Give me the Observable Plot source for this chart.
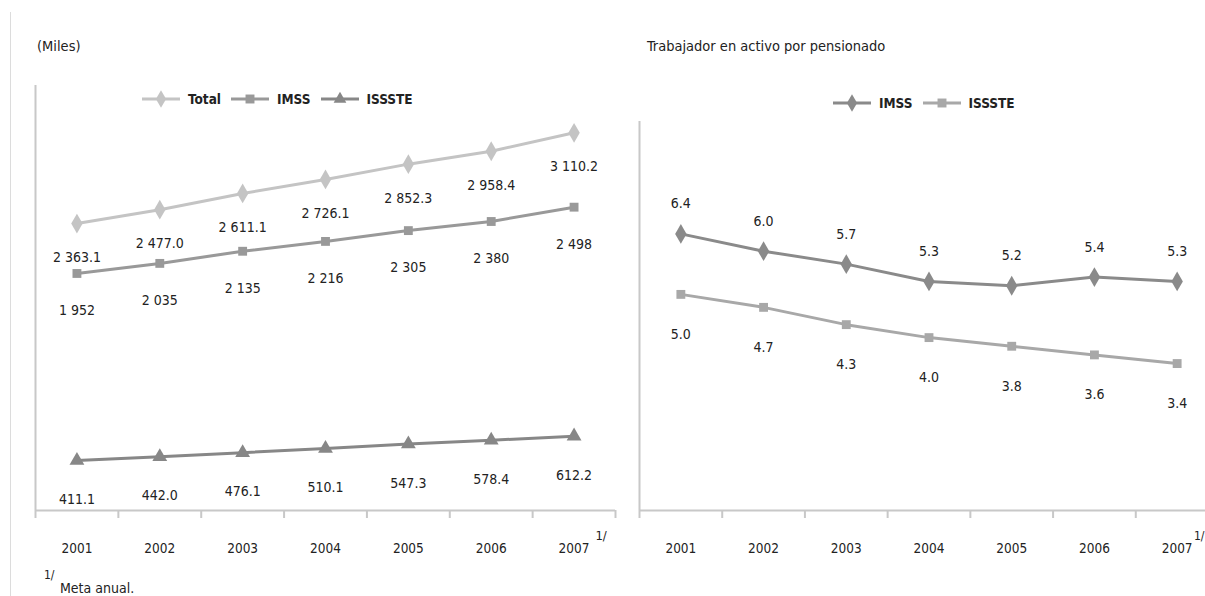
<!DOCTYPE html>
<html>
<head>
<meta charset="utf-8">
<script src="https://cdn.jsdelivr.net/npm/d3@7"></script>
<script src="https://cdn.jsdelivr.net/npm/@observablehq/plot@0.6"></script>
<style>
  html, body { margin: 0; padding: 0; background: #fff; }
  body { width: 1205px; height: 596px; overflow: hidden; position: relative;
         font-family: "DejaVu Sans Condensed", "DejaVu Sans", sans-serif; color: #222; }
  svg { max-width: none !important; overflow: visible; }
  .abs { position: absolute; }
  .title { font-size: 14.5px; white-space: nowrap; }
  .legend { display: flex; align-items: center; font-size: 13.5px; font-weight: bold; white-space: nowrap; }
  .legend .item { display: flex; align-items: center; margin-right: 10px; }
  .legend svg { margin-right: 8px; }
</style>
</head>
<body>
<div class="abs" style="left:10px;top:12px;height:584px;border-left:1.5px solid #dcdcdc;"></div>
<div class="abs title" style="left:37px;top:38px;">(Miles)</div>
<div class="abs title" style="left:647px;top:38px;">Trabajador en activo por pensionado</div>
<div id="legL" class="abs legend" style="left:142px;top:91px;"></div>
<div id="legR" class="abs legend" style="left:833px;top:95px;"></div>
<div id="left" class="abs" style="left:0;top:0;"></div>
<div id="right" class="abs" style="left:600px;top:0;"></div>
<div class="abs" style="left:44px;top:568px;font-size:12px;">1/</div>
<div class="abs" style="left:60px;top:580px;font-size:14px;">Meta anual.</div>
<script>
// ---- data ----
const years = [2001, 2002, 2003, 2004, 2005, 2006, 2007];
const yearBounds = [2000.5, 2001.5, 2002.5, 2003.5, 2004.5, 2005.5, 2006.5, 2007.5];
const totalVals = [2363.1, 2477.0, 2611.1, 2726.1, 2852.3, 2958.4, 3110.2];
const imssVals = [1952, 2035, 2135, 2216, 2305, 2380, 2498];
const issteVals = [411.1, 442.0, 476.1, 510.1, 547.3, 578.4, 612.2];
const ratioImss = [6.4, 6.0, 5.7, 5.3, 5.2, 5.4, 5.3];
const ratioIssste = [5.0, 4.7, 4.3, 4.0, 3.8, 3.6, 3.4];
const leftSeries = ["Total", "IMSS", "ISSSTE"];
const rightSeries = ["IMSS", "ISSSTE"];

// ---- styles ----
const axisColor = "#c8c8c8";
const colTotal = "#c4c4c4", colImss = "#999999", colIssste = "#878787";
const colRImss = "#8a8a8a", colRIssste = "#a8a8a8";
const font = "'DejaVu Sans Condensed', 'DejaVu Sans', sans-serif";

function fmt(v, dec) {
  const s = v.toFixed(dec);
  const parts = s.split(".");
  const intPart = parts[0].replace(/\B(?=(\d{3})+(?!\d))/g, " ");
  return parts.length > 1 ? intPart + "." + parts[1] : intPart;
}
const rows = (vals) => years.map((yr, i) => ({year: yr, value: vals[i]}));

function axisMarks() {
  return [
    Plot.ruleY([0], {stroke: axisColor, strokeWidth: 2}),
    Plot.ruleX([2000.5], {stroke: axisColor, strokeWidth: 2}),
    Plot.axisX({ticks: yearBounds, tickSize: 8, tickFormat: () => "", label: null, stroke: axisColor, strokeWidth: 2}),
    Plot.axisX({ticks: years, tickSize: 0, tickPadding: 33, tickFormat: d => String(d), label: null, fontSize: 13.5, fill: "#222"})
  ];
}

function seriesMarks(vals, color, symbol, r, dec, dy) {
  const d = rows(vals);
  return [
    Plot.line(d, {x: "year", y: "value", stroke: color, strokeWidth: 3}),
    Plot.dot(d, {x: "year", y: "value", symbol: symbol, r: r, fill: color, stroke: null}),
    Plot.text(d, {x: "year", y: "value", text: v => fmt(v.value, dec), dy: dy, fontSize: 14, fill: "#222"})
  ];
}

const left = Plot.plot({
  width: 625, height: 596,
  marginLeft: 35, marginRight: 10, marginTop: 85, marginBottom: 86,
  x: {domain: [2000.5, 2007.5], axis: null},
  y: {domain: [0, 3500], axis: null},
  style: {fontFamily: font, fontSize: "13px", color: "#222", background: "transparent", overflow: "visible"},
  marks: [
    ...axisMarks(),
    ...seriesMarks(totalVals, colTotal, "diamond", 6, 1, 34),
    ...seriesMarks(imssVals, colImss, "square", 5, 0, 37),
    ...seriesMarks(issteVals, colIssste, "triangle", 5.5, 1, 39),
    Plot.text([2007], {x: d => d, text: () => "1/", frameAnchor: "bottom", dx: 27, dy: 29, fontSize: 13, fill: "#222"})
  ]
});
document.getElementById("left").appendChild(left);

const right = Plot.plot({
  width: 630, height: 596,
  marginLeft: 39, marginRight: 12, marginTop: 121, marginBottom: 86,
  x: {domain: [2000.5, 2007.5], axis: null},
  y: {domain: [0, 9], axis: null},
  style: {fontFamily: font, fontSize: "13px", color: "#222", background: "transparent", overflow: "visible"},
  marks: [
    ...axisMarks(),
    ...seriesMarks(ratioImss, colRImss, "diamond", 6, 1, -30),
    ...seriesMarks(ratioIssste, colRIssste, "square", 5, 1, 40),
    Plot.text([2007], {x: d => d, text: () => "1/", frameAnchor: "bottom", dx: 22, dy: 29, fontSize: 12, fill: "#222"})
  ]
});
document.getElementById("right").appendChild(right);

// ---- legends ----
function legend(el, names, colors, symbols, sizes) {
  const container = d3.select(el);
  names.forEach((name, i) => {
    const item = container.append("div").attr("class", "item");
    const svg = item.append("svg").attr("width", 38).attr("height", 14);
    svg.append("line").attr("x1", 0).attr("x2", 38).attr("y1", 7).attr("y2", 7)
      .attr("stroke", colors[i]).attr("stroke-width", 3);
    svg.append("path").attr("transform", "translate(19,7)")
      .attr("d", d3.symbol(symbols[i], sizes[i])()).attr("fill", colors[i]);
    item.append("span").text(name);
  });
}
legend("#legL", leftSeries, [colTotal, colImss, colIssste],
  [d3.symbolDiamond, d3.symbolSquare, d3.symbolTriangle], [90, 80, 70]);
legend("#legR", rightSeries, [colRImss, colRIssste],
  [d3.symbolDiamond, d3.symbolSquare], [90, 80]);
</script>
</body>
</html>
